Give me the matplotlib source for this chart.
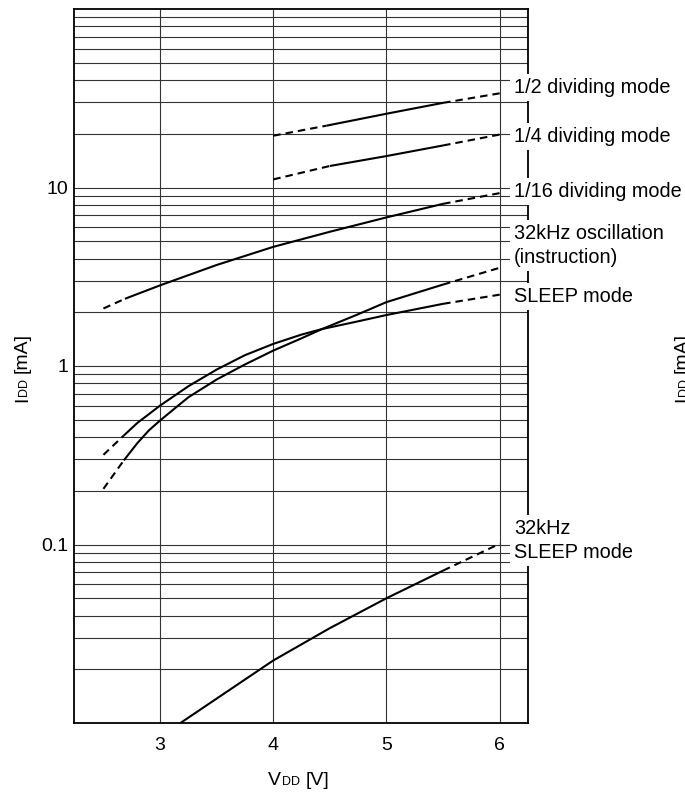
import matplotlib.pyplot as plt
from matplotlib.ticker import LogLocator, NullFormatter, FixedLocator

plt.rcParams['font.family'] = ['Liberation Sans', 'DejaVu Sans']

# supply current vs supply voltage
# each curve: voltages, currents, and index range drawn solid (rest dashed)
div2_v = [4.0, 4.47, 5.0, 5.5, 6.0]
div2_i = [19.5, 22.2, 25.9, 29.8, 33.7]
div2_solid = (1, 3)

div4_v = [4.0, 4.5, 5.0, 5.5, 6.0]
div4_i = [11.1, 13.2, 15.0, 17.2, 19.8]
div4_solid = (1, 3)

div16_v = [2.5, 2.69, 3.0, 3.5, 4.0, 4.5, 5.0, 5.5, 6.0]
div16_i = [2.1, 2.38, 2.83, 3.68, 4.65, 5.65, 6.8, 8.1, 9.3]
div16_solid = (1, 7)

osc_v = [2.5, 2.68, 2.8, 2.9, 3.0, 3.25, 3.5, 3.75, 4.0, 4.25, 4.43, 4.75, 5.0, 5.5, 6.0]
osc_i = [0.205, 0.296, 0.37, 0.435, 0.495, 0.668, 0.84, 1.02, 1.22, 1.43, 1.61, 1.95, 2.28, 2.86, 3.55]
osc_solid = (1, 13)

sleep_v = [2.5, 2.68, 2.8, 3.0, 3.25, 3.5, 3.75, 4.0, 4.25, 4.43, 4.75, 5.0, 5.5, 6.0]
sleep_i = [0.318, 0.408, 0.48, 0.60, 0.77, 0.955, 1.15, 1.33, 1.50, 1.61, 1.78, 1.93, 2.23, 2.51]
sleep_solid = (1, 12)

sleep32_v = [3.18, 3.5, 4.0, 4.5, 5.0, 5.5, 6.0]
sleep32_i = [0.01, 0.0137, 0.0224, 0.034, 0.05, 0.0714, 0.101]
sleep32_solid = (0, 5)

ytick_vals = [0.1, 1, 10]
ytick_labels = ['0.1', '1', '10']
xtick_vals = [3, 4, 5, 6]

W, H = 685, 795
fig = plt.figure(figsize=(W / 100, H / 100), dpi=100)
ax = fig.add_axes([74 / W, 72 / H, 454 / W, 714 / H])


def plot_curve(v, i, solid):
    s0, s1 = solid
    kw = dict(color='black', lw=1.5, zorder=4)
    if s0 > 0:
        ax.plot(v[:s0 + 1], i[:s0 + 1], dashes=(3.6, 2.4), **kw)
    ax.plot(v[s0:s1 + 1], i[s0:s1 + 1], solid_capstyle='butt', solid_joinstyle='round', **kw)
    if s1 < len(v) - 1:
        ax.plot(v[s1:], i[s1:], dashes=(3.6, 2.4), **kw)


plot_curve(div2_v, div2_i, div2_solid)
plot_curve(div4_v, div4_i, div4_solid)
plot_curve(div16_v, div16_i, div16_solid)
plot_curve(osc_v, osc_i, osc_solid)
plot_curve(sleep_v, sleep_i, sleep_solid)
plot_curve(sleep32_v, sleep32_i, sleep32_solid)

ax.set_yscale('log')
ax.set_ylim(0.01, 100)
ax.set_xlim(2.24, 6.25)
ax.set_yticks(ytick_vals)
ax.set_yticklabels(ytick_labels)
ax.yaxis.set_minor_locator(LogLocator(base=10, subs=range(2, 10)))
ax.yaxis.set_minor_formatter(NullFormatter())
ax.xaxis.set_major_locator(FixedLocator(xtick_vals))
ax.tick_params(which='both', length=0, labelsize=14)
ax.tick_params(axis='x', pad=10)
ax.tick_params(axis='y', pad=4)
ax.grid(True, which='both', axis='y', color='#333333', lw=0.8)
ax.grid(True, which='major', axis='x', color='#333333', lw=0.8)
for sp in ax.spines.values():
    sp.set_linewidth(1.3)


def px_text(x, y, s, size=14, **kw):
    # x, y in pixels from the top-left corner
    return fig.text(x / W, 1 - y / H, s, fontsize=size, **kw)


box = dict(boxstyle='square,pad=0.2', fc='white', ec='none')
labels = [
    ("1/2 dividing mode", 93),
    ("1/4 dividing mode", 141.7),
    ("1/16 dividing mode", 196.7),
    ("32kHz oscillation", 239.3),
    ("(instruction)", 262.7),
    ("SLEEP mode", 301.7),
    ("32kHz", 534),
    ("SLEEP mode", 558.3),
]
for s, yb in labels:
    px_text(514, yb, s, 14.3, ha='left', va='baseline', bbox=box, zorder=5)

# axis titles with small "DD"
px_text(268, 785, "V", 14, ha='left', va='baseline')
px_text(282, 785, "DD", 9, ha='left', va='baseline')
px_text(306, 785, "[V]", 14, ha='left', va='baseline')

# y title, plus the clipped one of the neighbouring chart at the right edge
for xb in (27, 687):
    rk = dict(rotation=90, rotation_mode='anchor', ha='left', va='baseline')
    px_text(xb, 402, "I", 14, **rk)
    px_text(xb, 396, "DD", 9, **rk)
    px_text(xb, 373, "[mA]", 14, **rk)

fig.savefig('out.png', dpi=100)
